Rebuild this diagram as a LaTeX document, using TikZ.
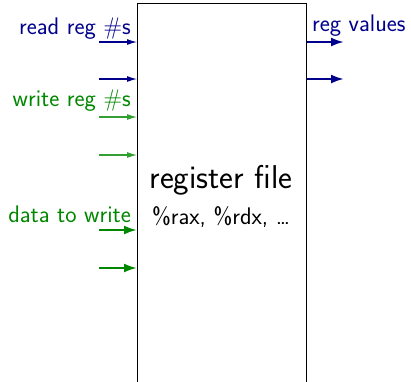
\documentclass[tikz,border=0pt]{standalone}
\usetikzlibrary{arrows.meta}
\definecolor{rdblue}{RGB}{0,0,140}
\definecolor{wrgreen}{RGB}{0,135,0}
\begin{document}
\begin{tikzpicture}[x=1pt,y=-1pt,
  lbl/.style={font=\sffamily\fontsize{24}{27}\selectfont, inner sep=0pt},
  thinin/.style={line width=1.1pt, -{Latex[length=10pt,width=6pt]}},
  thickin/.style={line width=2.3pt, -{Latex[length=13pt,width=9pt]}},
  regbox/.style={draw, line width=1.1pt, minimum width=169pt, minimum height=420pt, anchor=north west, inner sep=0pt}]
\useasboundingbox (0,0) rectangle (411,381);
\clip (0,0) rectangle (411,381);
% register file block (runs off the bottom edge)
\node[regbox] (rf) at (137,3) {};
\node[font=\sffamily\fontsize{33}{38}\selectfont, inner sep=0pt] (title) at (221,180) {register file};
\node[lbl] (regs) at (221,217) {\%rax, \%rdx, \dots};
% input ports
\foreach \n/\y in {r1/42, r2/79, w1/117, w2/155, d1/230, d2/268} {
  \coordinate (\n) at (99,\y);
  \coordinate (\n e) at (rf.west |- 0,\y);
}
% output ports
\foreach \n/\y in {o1/42, o2/79} {
  \coordinate (\n s) at (rf.east |- 0,\y);
  \coordinate (\n) at (344,\y);
}
\draw[thinin, rdblue] (r1) -- (r1e);
\draw[thinin, rdblue] (r2) -- (r2e);
\draw[thinin, wrgreen!80] (w1) -- (w1e);
\draw[thinin, wrgreen!80] (w2) -- (w2e);
\draw[thickin, wrgreen] (d1) -- (d1e);
\draw[thickin, wrgreen] (d2) -- (d2e);
\draw[thickin, rdblue] (o1s) -- (o1);
\draw[thickin, rdblue] (o2s) -- (o2);
% labels
\node[lbl, rdblue, anchor=base east] (lread) at (131,34) {read reg \#s};
\node[lbl, wrgreen, anchor=base east] (lwrite) at (131,106) {write reg \#s};
\node[lbl, wrgreen, anchor=base east] (ldata) at (131,222) {data to write};
\node[lbl, rdblue, anchor=base west] (lout) at (312,31) {reg values};
\end{tikzpicture}
\end{document}
